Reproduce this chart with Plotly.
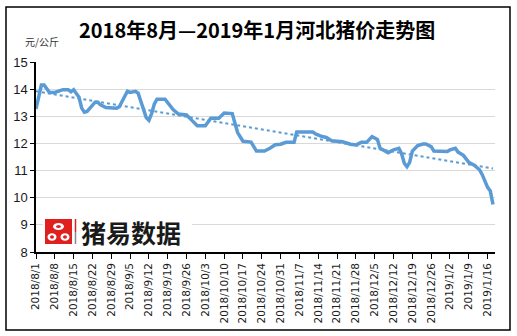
import plotly.graph_objects as go

# ---- data ----
title_text = "2018年8月—2019年1月河北猪价走势图"
unit_text = "元/公斤"
brand_text = "猪易数据"

dates = [
    "2018-08-01", "2018-08-03", "2018-08-04", "2018-08-06", "2018-08-08", "2018-08-09",
    "2018-08-11", "2018-08-13", "2018-08-14", "2018-08-15", "2018-08-16", "2018-08-17",
    "2018-08-18", "2018-08-19", "2018-08-20", "2018-08-22", "2018-08-23", "2018-08-24",
    "2018-08-25", "2018-08-27", "2018-08-31", "2018-09-01", "2018-09-02", "2018-09-04",
    "2018-09-05", "2018-09-07", "2018-09-08", "2018-09-10", "2018-09-11", "2018-09-12",
    "2018-09-13", "2018-09-14", "2018-09-15", "2018-09-18", "2018-09-19", "2018-09-21",
    "2018-09-23", "2018-09-26", "2018-09-28", "2018-09-30", "2018-10-03", "2018-10-05",
    "2018-10-08", "2018-10-10", "2018-10-13", "2018-10-14", "2018-10-15", "2018-10-17",
    "2018-10-20", "2018-10-22", "2018-10-25", "2018-10-27", "2018-10-29", "2018-10-31",
    "2018-11-02", "2018-11-05", "2018-11-06", "2018-11-12", "2018-11-13", "2018-11-15",
    "2018-11-17", "2018-11-19", "2018-11-23", "2018-11-26", "2018-11-28", "2018-11-30",
    "2018-12-02", "2018-12-04", "2018-12-05", "2018-12-06", "2018-12-07", "2018-12-10",
    "2018-12-12", "2018-12-14", "2018-12-15", "2018-12-16", "2018-12-17", "2018-12-18",
    "2018-12-19", "2018-12-21", "2018-12-23", "2018-12-24", "2018-12-26", "2018-12-27",
    "2019-01-01", "2019-01-02", "2019-01-04", "2019-01-05", "2019-01-07", "2019-01-09",
    "2019-01-11", "2019-01-13", "2019-01-14", "2019-01-15", "2019-01-16", "2019-01-17",
    "2019-01-18",
]
prices = [
    13.27, 14.15, 14.15, 13.88, 13.88, 13.92,
    13.98, 13.98, 13.90, 13.98, 13.85, 13.70,
    13.30, 13.15, 13.18, 13.40, 13.52, 13.52,
    13.42, 13.32, 13.30, 13.35, 13.55, 13.92,
    13.88, 13.92, 13.85, 13.30, 12.95, 12.85,
    13.10, 13.45, 13.63, 13.63, 13.50, 13.25,
    13.08, 13.05, 12.85, 12.65, 12.65, 12.93,
    12.93, 13.12, 13.10, 12.80, 12.40, 12.08,
    12.05, 11.72, 11.72, 11.82, 11.95, 11.97,
    12.04, 12.04, 12.42, 12.42, 12.35, 12.27,
    12.22, 12.10, 12.06, 11.97, 11.94, 12.04,
    12.04, 12.25, 12.20, 12.15, 11.82, 11.66,
    11.76, 11.82, 11.62, 11.27, 11.14, 11.30,
    11.72, 11.92, 11.98, 11.98, 11.88, 11.72,
    11.70, 11.76, 11.82, 11.68, 11.56, 11.30,
    11.20, 11.03, 10.85, 10.60, 10.38, 10.25,
    9.75,
]

trend_dates = ["2018-08-01", "2019-01-18"]
trend_values = [13.92, 11.08]

tick_dates = [
    "2018-08-01", "2018-08-08", "2018-08-15", "2018-08-22", "2018-08-29",
    "2018-09-05", "2018-09-12", "2018-09-19", "2018-09-26", "2018-10-03",
    "2018-10-10", "2018-10-17", "2018-10-24", "2018-10-31", "2018-11-07",
    "2018-11-14", "2018-11-21", "2018-11-28", "2018-12-05", "2018-12-12",
    "2018-12-19", "2018-12-26", "2019-01-02", "2019-01-09", "2019-01-16",
]
tick_labels = [
    "2018/8/1", "2018/8/8", "2018/8/15", "2018/8/22", "2018/8/29",
    "2018/9/5", "2018/9/12", "2018/9/19", "2018/9/26", "2018/10/3",
    "2018/10/10", "2018/10/17", "2018/10/24", "2018/10/31", "2018/11/7",
    "2018/11/14", "2018/11/21", "2018/11/28", "2018/12/5", "2018/12/12",
    "2018/12/19", "2018/12/26", "2019/1/2", "2019/1/9", "2019/1/16",
]
y_ticks = [8, 9, 10, 11, 12, 13, 14, 15]

# ---- figure ----
BLUE = "#5B9BD5"
CJK = "Noto Sans CJK SC"

fig = go.Figure()
fig.add_trace(go.Scatter(
    x=trend_dates, y=trend_values, mode="lines",
    line=dict(color=BLUE, width=2, dash="dot"), hoverinfo="skip", showlegend=False,
))
fig.add_trace(go.Scatter(
    x=dates, y=prices, mode="lines",
    line=dict(color=BLUE, width=3.5), showlegend=False,
))

L, R, T, B = 36, 22, 62, 84
W, H = 517, 336
pw, ph = W - L - R, H - T - B


def px(x):
    return (x - L) / pw


def py(y):
    return (H - B - y) / ph


shapes = [
    # outer border
    dict(type="rect", xref="paper", yref="paper",
         x0=px(6), x1=px(510), y0=py(330), y1=py(7),
         line=dict(color="black", width=1.5), fillcolor="rgba(0,0,0,0)", layer="above"),
    # logo white background
    dict(type="rect", xref="paper", yref="paper",
         x0=px(43), x1=px(192), y0=py(246), y1=py(216),
         line=dict(width=0), fillcolor="white", layer="above"),
    # red icon square
    dict(type="rect", xref="paper", yref="paper",
         x0=px(45), x1=px(72), y0=py(244), y1=py(219),
         line=dict(width=0), fillcolor="#E0201F", layer="above"),
    # divider bar
    dict(type="line", xref="paper", yref="paper",
         x0=px(75.5), x1=px(75.5), y0=py(232), y1=py(219),
         line=dict(color="#E0201F", width=1.5), layer="above"),
    dict(type="line", xref="paper", yref="paper",
         x0=px(75.5), x1=px(75.5), y0=py(244), y1=py(232),
         line=dict(color="#888888", width=1.5), layer="above"),
]
# icon: three white rings
for cx, cy, rx, ry in [(58.5, 226.5, 5.5, 3.5), (52.0, 237.0, 4.5, 3.8), (65.0, 237.0, 4.5, 3.8)]:
    shapes.append(dict(type="circle", xref="paper", yref="paper",
                       x0=px(cx - rx), x1=px(cx + rx), y0=py(cy + ry), y1=py(cy - ry),
                       line=dict(width=0), fillcolor="white", layer="above"))
    shapes.append(dict(type="circle", xref="paper", yref="paper",
                       x0=px(cx - rx * 0.45), x1=px(cx + rx * 0.45),
                       y0=py(cy + ry * 0.45), y1=py(cy - ry * 0.45),
                       line=dict(width=0), fillcolor="#E0201F", layer="above"))

annotations = [
    dict(text=title_text, xref="paper", yref="paper", x=px(257), y=py(30),
         xanchor="center", yanchor="middle", showarrow=False,
         font=dict(family=CJK, size=20, color="black", weight="bold")),
    dict(text=unit_text, xref="paper", yref="paper", x=px(23), y=py(42),
         xanchor="left", yanchor="middle", showarrow=False,
         font=dict(family=CJK, size=10, color="#333333")),
    dict(text=brand_text, xref="paper", yref="paper", x=px(79), y=py(231.5),
         xanchor="left", yanchor="middle", showarrow=False,
         font=dict(family=CJK, size=25, color="#1a1a1a", weight="bold")),
]

fig.update_layout(
    width=W, height=H,
    margin=dict(l=L, r=R, t=T, b=B),
    paper_bgcolor="white", plot_bgcolor="white",
    showlegend=False,
    shapes=shapes,
    annotations=annotations,
    xaxis=dict(
        type="date",
        range=["2018-08-01", "2019-01-18 18:00"],
        tickmode="array", tickvals=tick_dates, ticktext=tick_labels,
        tickangle=-90,
        ticks="outside", ticklen=5, tickcolor="black", tickwidth=1,
        showline=True, linecolor="black", linewidth=1.5,
        showgrid=False, zeroline=False,
        tickfont=dict(family="DejaVu Sans, Arial", size=10.5, color="#1a1a1a"),
    ),
    yaxis=dict(
        range=[8, 15],
        tickmode="array", tickvals=y_ticks,
        ticks="outside", ticklen=4, tickcolor="black",
        showline=True, linecolor="black", linewidth=1.5,
        showgrid=True, gridcolor="#D9D9D9", gridwidth=1,
        zeroline=False,
        tickfont=dict(family="Liberation Sans, Arial", size=13, color="#1a1a1a"),
    ),
)

fig.write_html("out.html")
